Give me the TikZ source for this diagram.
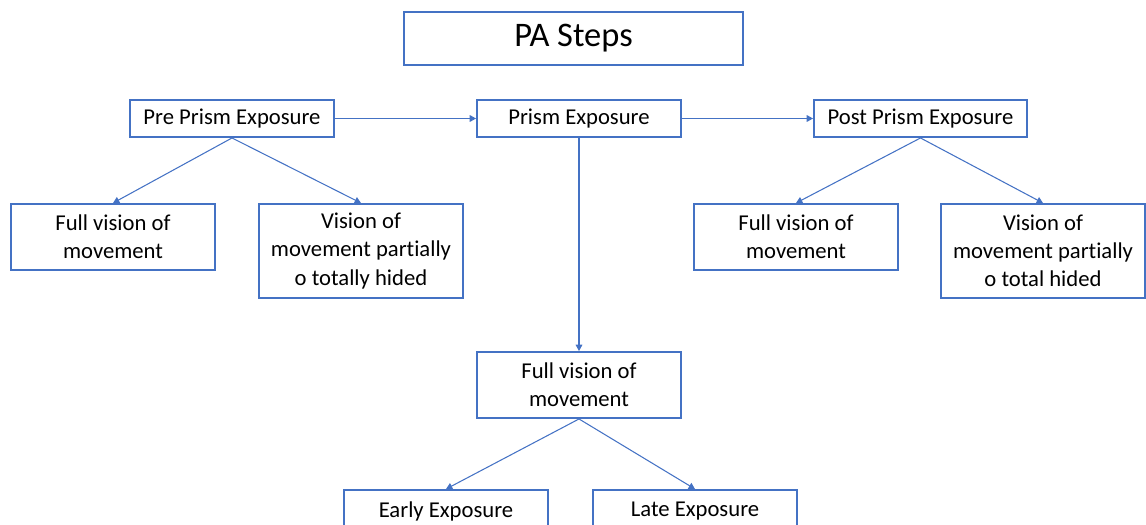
\documentclass[tikz,border=0pt]{standalone}
\usepackage{fontspec}
\setmainfont[Ligatures=NoCommon]{Carlito}
\usetikzlibrary{arrows.meta}
\definecolor{boxblue}{HTML}{4472C4}

\begin{document}
\begin{tikzpicture}
  [x=0.02cm,y=-0.02cm,
   every node/.style={draw=boxblue,line width=1.1pt,fill=white,align=center,
     inner sep=0pt,minimum width=4.08cm,font=\fontsize{12.9}{16}\selectfont},
   arr/.style={draw=boxblue,line width=0.6pt,-{Triangle[length=3.6pt,width=3.8pt]}}]
  \useasboundingbox (0,0) rectangle (1146,524);
  \clip (0,0) rectangle (1146,524);
  \node (pa) at (573.5,38.5) [minimum width=6.78cm,minimum height=1.06cm,
    font=\fontsize{19.6}{22}\selectfont] {PA Steps};
  \node (pre) at (232,118.5) [minimum height=0.74cm] {Pre Prism Exposure};
  \node (prism) at (579,118.5) [minimum height=0.74cm] {Prism Exposure};
  \node (post) at (920.5,118.5) [minimum width=4.26cm,minimum height=0.74cm] {Post Prism Exposure};
  \node (full1) at (113,237) [minimum height=1.32cm] {Full vision of\\movement};
  \node (part1) at (361,251) [minimum height=1.88cm] {Vision of\\movement partially\\o totally hided};
  \node (full2) at (796,237) [minimum height=1.32cm] {Full vision of\\movement};
  \node (part2) at (1043,251) [minimum height=1.88cm] {Vision of\\movement partially\\o total hided};
  \node (full3) at (579,385) [minimum height=1.32cm] {Full vision of\\movement};
  \node (early) at (446,523) [minimum height=1.32cm,text depth=0.55cm] {Early Exposure};
  \node (late) at (695,523) [minimum height=1.32cm,text depth=0.55cm] {Late Exposure};
  \foreach \from/\to in {pre/full1,pre/part1,post/full2,post/part2,prism/full3,full3/early,full3/late}
    \draw[arr] (\from.south) -- (\to.north);
  \foreach \from/\to in {pre/prism,prism/post}
    \draw[arr] (\from.east) -- (\to.west);
\end{tikzpicture}
\end{document}
